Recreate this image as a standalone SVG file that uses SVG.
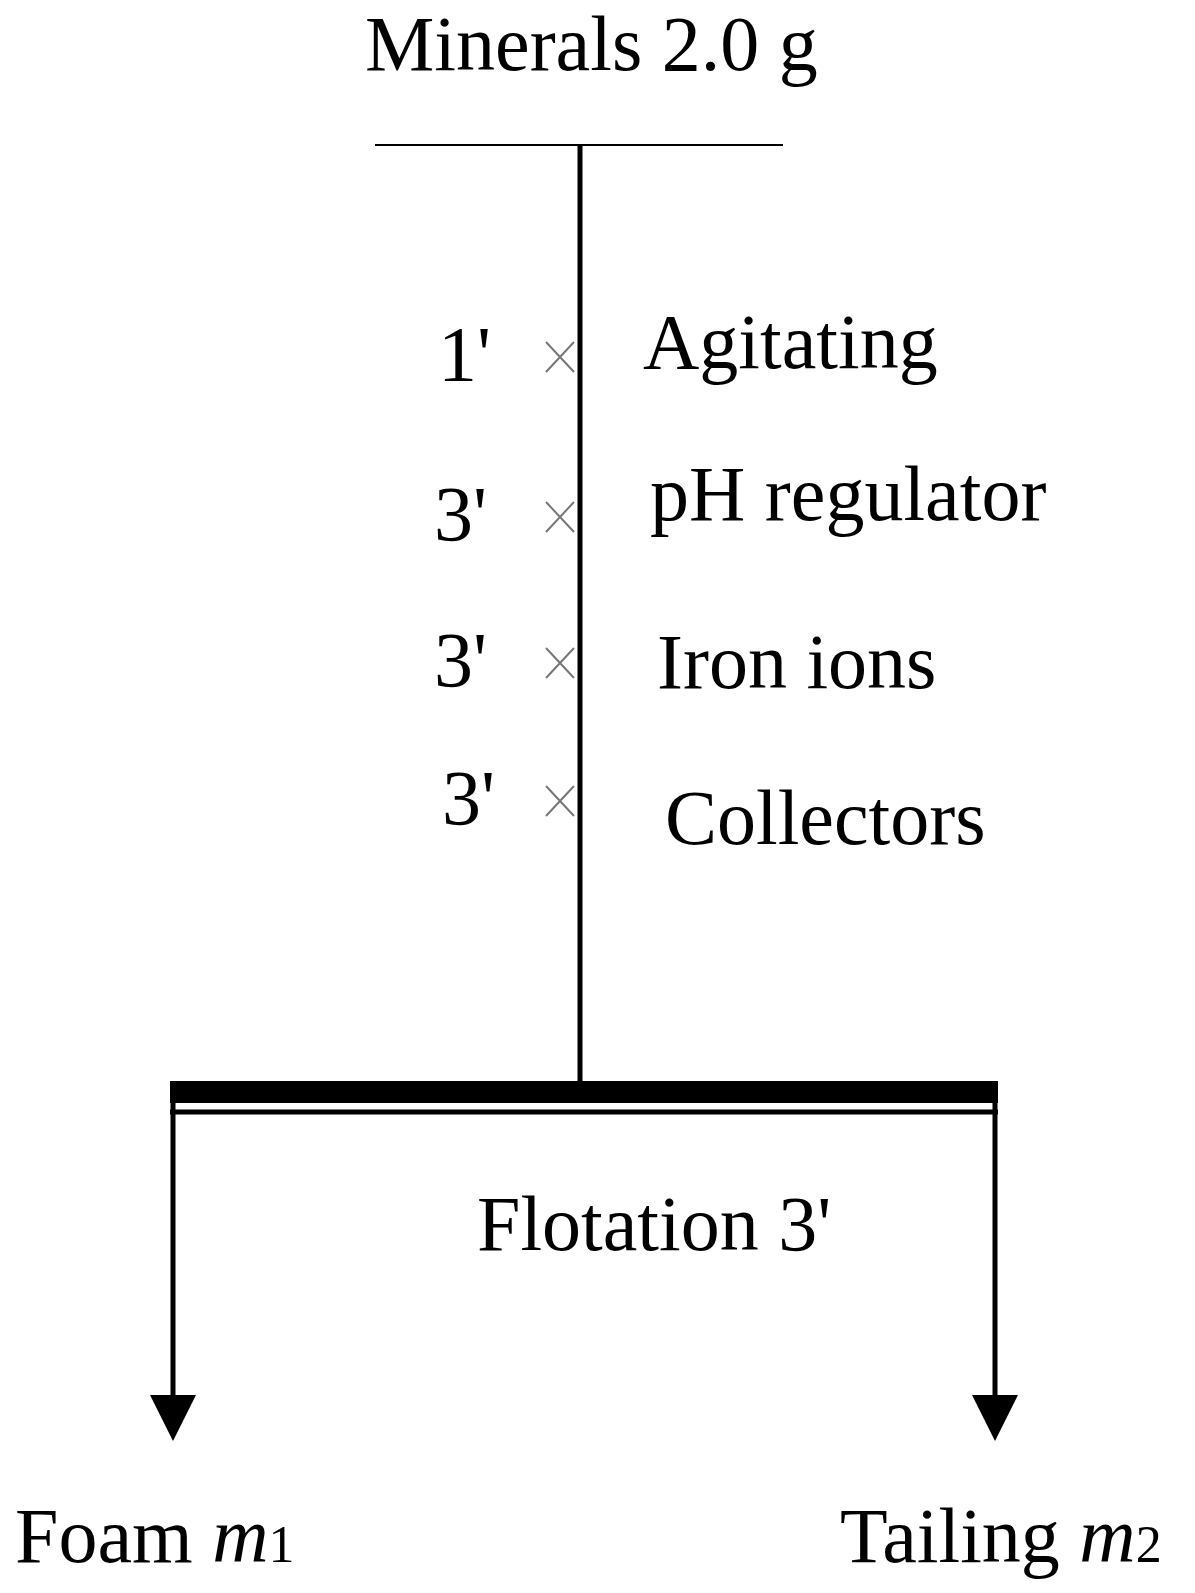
<svg xmlns="http://www.w3.org/2000/svg" width="1195" height="1593" viewBox="0 0 1195 1593">
<style>
text{font-family:"Liberation Serif","Times New Roman",serif;fill:#000}
.t{font-size:78px}
.x{stroke:#777;stroke-width:2}
</style>
<rect width="1195" height="1593" fill="#fff"/>
<g id="connectors" stroke="#000" fill="none">
<line x1="375" y1="145" x2="783" y2="145" stroke-width="2"/>
<line x1="580" y1="145" x2="580" y2="1085" stroke-width="5"/>
<rect x="170" y="1081" width="828" height="22" fill="#000" stroke="none"/>
<line x1="170" y1="1112" x2="998" y2="1112" stroke-width="5"/>
<line x1="173" y1="1100" x2="173" y2="1398" stroke-width="5"/>
<line x1="995" y1="1100" x2="995" y2="1398" stroke-width="5"/>
<path d="M150,1395L196,1395L173,1441Z M972,1395L1018,1395L995,1441Z" fill="#000" stroke="none"/>
</g>
<g id="top"><text class="t" x="365" y="70">Minerals 2.0 g</text></g>
<g id="s1"><text class="t" x="438" y="380">1'</text><path class="x" d="M546,342L574,372M574,342L546,372"/><text class="t" x="643" y="368">Agitating</text></g>
<g id="s2"><text class="t" x="434" y="540">3'</text><path class="x" d="M546,502L574,532M574,502L546,532"/><text class="t" x="650" y="520">pH regulator</text></g>
<g id="s3"><text class="t" x="434" y="686">3'</text><path class="x" d="M546,648L574,678M574,648L546,678"/><text class="t" x="657" y="688">Iron ions</text></g>
<g id="s4"><text class="t" x="442" y="824">3'</text><path class="x" d="M546,786L574,816M574,786L546,816"/><text class="t" x="665" y="844">Collectors</text></g>
<g id="flot"><text class="t" x="477" y="1250">Flotation 3'</text></g>
<g id="foam"><text class="t" x="15" y="1562">Foam <tspan font-style="italic">m</tspan><tspan font-size="52">1</tspan></text></g>
<g id="tail"><text class="t" x="840" y="1562">Tailing <tspan font-style="italic">m</tspan><tspan font-size="52">2</tspan></text></g>
</svg>
